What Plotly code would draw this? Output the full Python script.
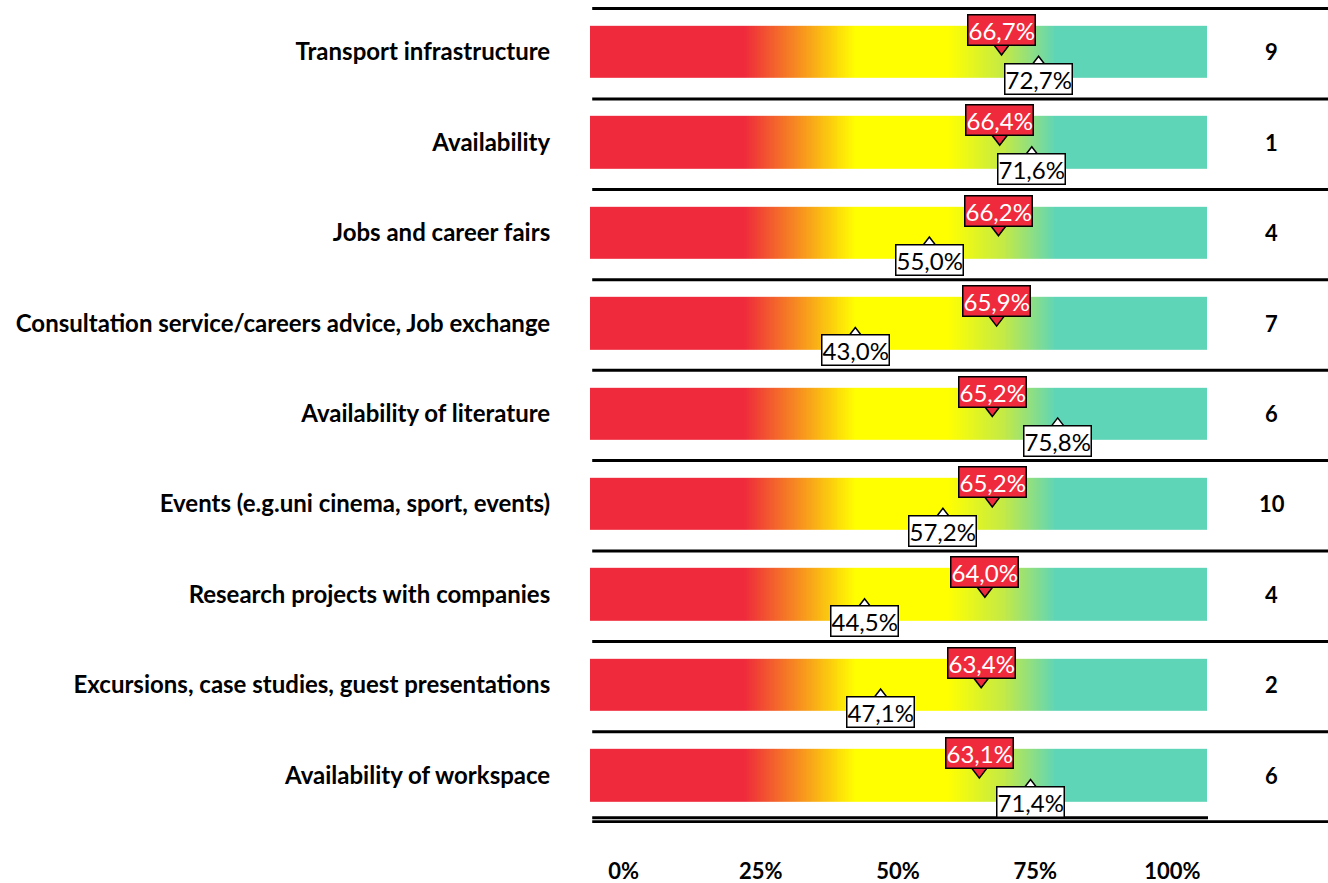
import plotly.graph_objects as go
import numpy as np

categories = [
    "Transport infrastructure",
    "Availability",
    "Jobs and career fairs",
    "Consultation service/careers advice, Job exchange",
    "Availability of literature",
    "Events (e.g.uni cinema, sport, events)",
    "Research projects with companies",
    "Excursions, case studies, guest presentations",
    "Availability of workspace",
]
red_values = [66.7, 66.4, 66.2, 65.9, 65.2, 65.2, 64.0, 63.4, 63.1]
white_values = [72.7, 71.6, 55.0, 43.0, 75.8, 57.2, 44.5, 47.1, 71.4]
counts = [9, 1, 4, 7, 6, 10, 4, 2, 6]
tick_vals = [0, 25, 50, 75, 100]
tick_labels = ["0%", "25%", "50%", "75%", "100%"]

RED = "#EF2A3C"
TEAL = "#5FD5B7"
FONT = "Lato"

def fmt(v):
    return f"{v:.1f}".replace(".", ",") + "%"

n = len(categories)
rows = list(range(n))

# gradient background bars
edges = np.linspace(0, 100, 401)
mids = (edges[:-1] + edges[1:]) / 2
z = [list(mids) for _ in rows]
colorscale = [
    [0.0, RED], [0.25, RED], [0.34, "#F7901F"], [0.43, "#FFFF00"],
    [0.58, "#FFFF00"], [0.67, "#C4EA45"], [0.755, TEAL], [1.0, TEAL],
]

fig = go.Figure()
fig.add_trace(go.Heatmap(
    x=edges, y=rows, z=z, zmin=0, zmax=100, colorscale=colorscale,
    showscale=False, ygap=38, hoverinfo="skip",
))

# callout pointers
fig.add_trace(go.Scatter(
    x=red_values, y=[r - 0.045 for r in rows], mode="markers",
    marker=dict(symbol="triangle-down", size=14, color=RED,
                line=dict(color="black", width=1.5)),
    hoverinfo="skip", showlegend=False,
))
fig.add_trace(go.Scatter(
    x=white_values, y=[r + 0.125 for r in rows], mode="markers",
    marker=dict(symbol="triangle-up", size=14, color="white",
                line=dict(color="black", width=1.5)),
    hoverinfo="skip", showlegend=False,
))
# invisible trace for secondary axis
fig.add_trace(go.Scatter(x=[0, 100], y=[0, 0], xaxis="x2", mode="markers",
                         marker=dict(opacity=0), hoverinfo="skip", showlegend=False))

annotations = []
for r, v in zip(rows, red_values):
    annotations.append(dict(
        x=v, y=r, xref="x", yref="y", text=fmt(v), showarrow=False,
        yshift=22, bgcolor=RED, bordercolor="black", borderwidth=1.5, borderpad=0,
        font=dict(family=FONT, size=24, color="white"),
    ))
for r, v in zip(rows, white_values):
    annotations.append(dict(
        x=v, y=r, xref="x", yref="y", text=fmt(v), showarrow=False,
        yshift=-27, bgcolor="white", bordercolor="black", borderwidth=1.5, borderpad=0,
        font=dict(family=FONT, size=24, color="black"),
    ))
for r, c in zip(rows, counts):
    annotations.append(dict(
        x=110.5, y=r, xref="x", yref="y", text=f"<b>{c}</b>", showarrow=False,
        font=dict(family=FONT, size=22, color="black"),
    ))

shapes = []
for r in rows:
    shapes.append(dict(type="line", xref="paper", yref="y", x0=0.003, x1=1,
                       y0=r - 0.48, y1=r - 0.48, line=dict(color="black", width=3)))
shapes.append(dict(type="line", xref="paper", x0=0.003, yref="y", x1=(1208 - 590) / 738,
                   y0=n - 1 + 0.47, y1=n - 1 + 0.47, line=dict(color="black", width=3)))
shapes.append(dict(type="line", xref="paper", yref="y", x0=0.003, x1=1,
                   y0=n - 1 + 0.515, y1=n - 1 + 0.515, line=dict(color="black", width=3)))

fig.update_layout(
    width=1328, height=883,
    margin=dict(l=590, r=0, t=0, b=60, autoexpand=False),
    paper_bgcolor="white", plot_bgcolor="white",
    showlegend=False,
    annotations=annotations,
    shapes=shapes,
    xaxis=dict(range=[0, 738 / 617 * 100], showgrid=False, zeroline=False,
               showticklabels=False, showline=False, fixedrange=True, automargin=False),
    xaxis2=dict(overlaying="x", side="bottom", anchor="y",
                range=[-6.12, -6.12 + 738 / 5.488],
                tickvals=tick_vals, ticktext=[f"<b>{t}</b>" for t in tick_labels],
                tickfont=dict(family=FONT, size=22, color="black"),
                ticks="outside", ticklen=29, tickcolor="rgba(0,0,0,0)",
                showgrid=False, zeroline=False, showline=False, automargin=False),
    yaxis=dict(range=[-0.575 + 823 / 90.4, -0.575], tickvals=rows,
               ticktext=[f"<b>{c}</b>" for c in categories],
               tickfont=dict(family=FONT, size=24, color="black"),
               ticks="outside", ticklen=34, tickcolor="rgba(0,0,0,0)",
               showgrid=False, zeroline=False, showline=False, automargin=False),
)

fig.write_html("out.html", config={"displayModeBar": False},
               post_script="document.body.style.margin='0px';")
